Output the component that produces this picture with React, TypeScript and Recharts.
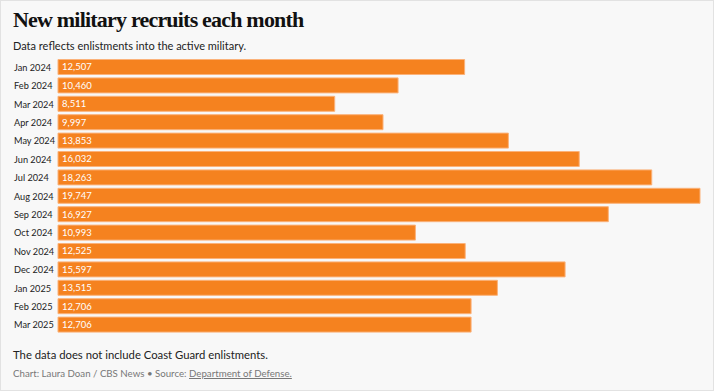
import React from "react";
import { BarChart, Bar, XAxis, YAxis, LabelList } from "recharts";

const months = [
  "Jan 2024", "Feb 2024", "Mar 2024", "Apr 2024", "May 2024", "Jun 2024", "Jul 2024",
  "Aug 2024", "Sep 2024", "Oct 2024", "Nov 2024", "Dec 2024", "Jan 2025", "Feb 2025", "Mar 2025",
];
const recruits = [
  12507, 10460, 8511, 9997, 13853, 16032, 18263, 19747, 16927, 10993, 12525, 15597, 13515, 12706, 12706,
];

const data = months.map((month, i) => ({ month, recruits: recruits[i] }));

const SANS = "Lato, 'Open Sans', sans-serif";

const MonthTick = (props: any) => {
  const { y, payload } = props;
  return (
    <text x={13} y={y} dy={3.5} textAnchor="start" fontSize={9.2} fill="#222" fontFamily={SANS}>
      {payload.value}
    </text>
  );
};

export default function App() {
  return (
    <div
      style={{
        position: "absolute",
        left: 0,
        top: 0,
        width: 714,
        height: 391,
        boxSizing: "border-box",
        border: "1px solid #e2e2e2",
        background: "#f8f8f8",
        fontFamily: SANS,
        overflow: "hidden",
      }}
    >
      <div
        style={{
          position: "absolute",
          left: 12,
          top: 6,
          fontFamily: "'Liberation Serif', serif",
          fontWeight: 700,
          fontSize: 22,
          color: "#111",
          letterSpacing: -0.8,
        }}
      >
        New military recruits each month
      </div>
      <div style={{ position: "absolute", left: 12, top: 38, fontSize: 11, color: "#222" }}>
        Data reflects enlistments into the active military.
      </div>
      <div style={{ position: "absolute", left: 0, top: 47 }}>
        <BarChart
          width={714}
          height={296}
          data={data}
          layout="vertical"
          margin={{ top: 10, right: 15, bottom: 10, left: 0 }}
          barCategoryGap={1.5}
        >
          <XAxis type="number" hide domain={[0, 19747]} />
          <YAxis
            type="category"
            dataKey="month"
            width={57}
            interval={0}
            axisLine={false}
            tickLine={false}
            tick={<MonthTick />}
          />
          <Bar dataKey="recruits" fill="#f5821f" stroke="#fbb27a" strokeWidth={1} isAnimationActive={false}>
            <LabelList
              dataKey="recruits"
              position="insideLeft"
              offset={4}
              fill="#fff"
              fontSize={9.5}
              fontFamily={SANS}
              formatter={(v: any) => Number(v).toLocaleString("en-US")}
            />
          </Bar>
        </BarChart>
      </div>
      <div style={{ position: "absolute", left: 12, top: 347, fontSize: 11.3, color: "#222" }}>
        The data does not include Coast Guard enlistments.
      </div>
      <div style={{ position: "absolute", left: 12, top: 366, fontSize: 9.7, color: "#777" }}>
        Chart: Laura Doan / CBS News • Source:{" "}
        <span style={{ textDecoration: "underline" }}>Department of Defense.</span>
      </div>
    </div>
  );
}
